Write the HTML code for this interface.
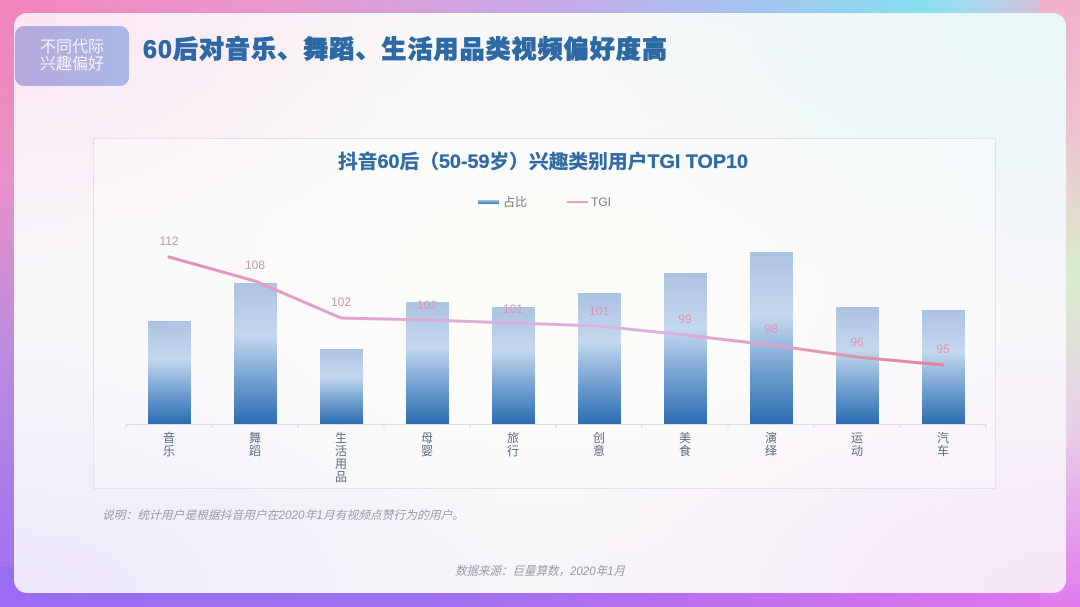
<!DOCTYPE html>
<html><head><meta charset="utf-8">
<style>
html,body{margin:0;padding:0;width:1080px;height:607px;overflow:hidden;}
body{position:relative;background:#c8a0e0;font-family:"Liberation Sans","Noto Sans CJK SC",sans-serif;}
.s{position:absolute;}
#top{left:0;top:0;width:1080px;height:40px;background:linear-gradient(90deg,#f285bd 0%,#ea98cf 25%,#c8a8e8 50%,#a0c8f0 72%,#86e0f0 85%,#a8d8f0 90%,#f2b0cc 100%);}
#left{left:0;top:0;width:40px;height:607px;background:linear-gradient(180deg,#f285bd 0%,#e890c8 30%,#b88ce0 60%,#9c6ef2 100%);}
#bottom{left:0;top:567px;width:1080px;height:40px;background:linear-gradient(90deg,#9a6cf2 0%,#a070f2 40%,#c070f0 70%,#e276ee 100%);}
#right{left:1040px;top:0;width:40px;height:607px;background:linear-gradient(180deg,#f2b0cc 0%,#f0c0d0 20%,#d8eccc 45%,#e8d0e8 70%,#e27aee 100%);}
#card{left:14px;top:13px;width:1052px;height:580px;border-radius:13px;overflow:hidden;
background:
radial-gradient(ellipse 420px 260px at 0% 0%,rgba(252,228,240,0.9),rgba(252,228,240,0)),
radial-gradient(ellipse 520px 300px at 100% 0%,rgba(230,247,248,0.95),rgba(230,247,248,0)),
radial-gradient(ellipse 520px 260px at 0% 100%,rgba(238,232,250,1),rgba(238,232,250,0)),
radial-gradient(ellipse 520px 260px at 100% 100%,rgba(246,230,248,1),rgba(246,230,248,0)),
radial-gradient(ellipse 500px 300px at 50% 45%,#fcfcf4,#f7f6f9);}
#tag{left:15px;top:26px;width:114px;height:60px;border-radius:9px;background:linear-gradient(90deg,#b6a8dc,#a9b8e6);color:#f6f4ff;font-size:16px;line-height:17px;text-align:center;}
#tag div{padding-top:13px;letter-spacing:0px;}
#panel{left:93px;top:138px;width:903px;height:351px;border:1px solid #e2e2e6;background:rgba(255,255,255,0.3);box-sizing:border-box;}
</style></head><body>
<div class="s" id="top"></div>
<div class="s" id="left"></div>
<div class="s" id="bottom"></div>
<div class="s" id="right"></div>
<div class="s" id="card"></div>
<div class="s" id="tag"><div>不同代际<br>兴趣偏好</div></div>
<div class="s" id="panel"></div>
<svg class="s" style="left:0;top:0" width="1080" height="607" viewBox="0 0 1080 607" xmlns="http://www.w3.org/2000/svg">
<defs>
<linearGradient id="bar" x1="0" y1="0" x2="0" y2="1">
<stop offset="0" stop-color="#abc2e1"/>
<stop offset="0.37" stop-color="#c4d8ef"/>
<stop offset="0.68" stop-color="#74a2d2"/>
<stop offset="1" stop-color="#2c6cb1"/>
</linearGradient>
<linearGradient id="leg" x1="0" y1="0" x2="0" y2="1">
<stop offset="0" stop-color="#b0c8e6"/>
<stop offset="1" stop-color="#3a78b8"/>
</linearGradient>
<linearGradient id="ln" gradientUnits="userSpaceOnUse" x1="169" y1="0" x2="943" y2="0">
<stop offset="0" stop-color="#e890b4"/>
<stop offset="0.3" stop-color="#dfaad4"/>
<stop offset="0.6" stop-color="#d9b4e0"/>
<stop offset="0.8" stop-color="#dca0c0"/>
<stop offset="1" stop-color="#e8808e"/>
</linearGradient>
</defs>
<text x="143" y="58" font-family="Liberation Sans, Noto Sans CJK SC, sans-serif" font-size="25" font-weight="900" fill="#2d69a4" stroke="#2d69a4" stroke-width="0.7" textLength="524" lengthAdjust="spacing">60后对音乐、舞蹈、生活用品类视频偏好度高</text>
<text x="338" y="168" font-family="Liberation Sans, Noto Sans CJK SC, sans-serif" font-size="19" font-weight="bold" fill="#2f6aa3" stroke="#2f6aa3" stroke-width="0.3" textLength="410" lengthAdjust="spacingAndGlyphs">抖音60后（50-59岁）兴趣类别用户TGI TOP10</text>
<rect x="478" y="200" width="21" height="4" fill="url(#leg)"/>
<text x="503" y="206" font-size="12" fill="#707880" font-family="Liberation Sans, Noto Sans CJK SC, sans-serif">占比</text>
<rect x="567" y="201" width="21" height="2" fill="#e8a0b6"/>
<text x="591" y="206" font-size="12" fill="#707880" font-family="Liberation Sans, Noto Sans CJK SC, sans-serif">TGI</text>
<g stroke="#d8dadf" stroke-width="1">
<line x1="126" y1="424.5" x2="986" y2="424.5"/>
<line x1="126" y1="424" x2="126" y2="428"/><line x1="212" y1="424" x2="212" y2="428"/><line x1="298" y1="424" x2="298" y2="428"/><line x1="384" y1="424" x2="384" y2="428"/><line x1="470" y1="424" x2="470" y2="428"/><line x1="556" y1="424" x2="556" y2="428"/><line x1="642" y1="424" x2="642" y2="428"/><line x1="728" y1="424" x2="728" y2="428"/><line x1="814" y1="424" x2="814" y2="428"/><line x1="900" y1="424" x2="900" y2="428"/><line x1="986" y1="424" x2="986" y2="428"/>
</g>
<g fill="url(#bar)">
<rect x="148" y="321" width="43" height="103"/>
<rect x="234" y="283" width="43" height="141"/>
<rect x="320" y="349" width="43" height="75"/>
<rect x="406" y="302" width="43" height="122"/>
<rect x="492" y="307" width="43" height="117"/>
<rect x="578" y="293" width="43" height="131"/>
<rect x="664" y="273" width="43" height="151"/>
<rect x="750" y="252" width="43" height="172"/>
<rect x="836" y="307" width="43" height="117"/>
<rect x="922" y="310" width="43" height="114"/>
</g>
<polyline points="169,257 255,281 341,318 427,320 513,323 599,326 685,335 771,345 857,357 943,365" fill="none" stroke="url(#ln)" stroke-width="3" stroke-linejoin="round" stroke-linecap="round"/>
<g font-size="12" text-anchor="middle" font-family="Liberation Sans, sans-serif">
<text x="169" y="245" fill="#c09aa8">112</text>
<text x="255" y="269" fill="#c49aac">108</text>
<text x="341" y="306" fill="#c49aac">102</text>
<text x="427" y="309" fill="#d89cb8">102</text>
<text x="513" y="313" fill="#d89cb8">101</text>
<text x="599" y="315" fill="#de98b8">101</text>
<text x="685" y="323" fill="#e094b8">99</text>
<text x="771" y="333" fill="#e094b8">98</text>
<text x="857" y="346" fill="#e094b8">96</text>
<text x="943" y="353" fill="#e094b8">95</text>
</g>
<g font-size="12" text-anchor="middle" fill="#5c6d82" font-family="Liberation Sans, Noto Sans CJK SC, sans-serif">
<text x="169" y="442">音</text><text x="169" y="455">乐</text>
<text x="255" y="442">舞</text><text x="255" y="455">蹈</text>
<text x="341" y="442">生</text><text x="341" y="455">活</text><text x="341" y="468">用</text><text x="341" y="481">品</text>
<text x="427" y="442">母</text><text x="427" y="455">婴</text>
<text x="513" y="442">旅</text><text x="513" y="455">行</text>
<text x="599" y="442">创</text><text x="599" y="455">意</text>
<text x="685" y="442">美</text><text x="685" y="455">食</text>
<text x="771" y="442">演</text><text x="771" y="455">绎</text>
<text x="857" y="442">运</text><text x="857" y="455">动</text>
<text x="943" y="442">汽</text><text x="943" y="455">车</text>
</g>
<text x="102" y="519" font-size="11.5" font-style="italic" fill="#9a9aaa" textLength="362" lengthAdjust="spacingAndGlyphs" font-family="Liberation Sans, Noto Sans CJK SC, sans-serif">说明：统计用户是根据抖音用户在2020年1月有视频点赞行为的用户。</text>
<text x="455" y="575" font-size="12" font-style="italic" fill="#9a9aaa" textLength="170" lengthAdjust="spacingAndGlyphs" font-family="Liberation Sans, Noto Sans CJK SC, sans-serif">数据来源：巨量算数，2020年1月</text>
</svg>
</body></html>
